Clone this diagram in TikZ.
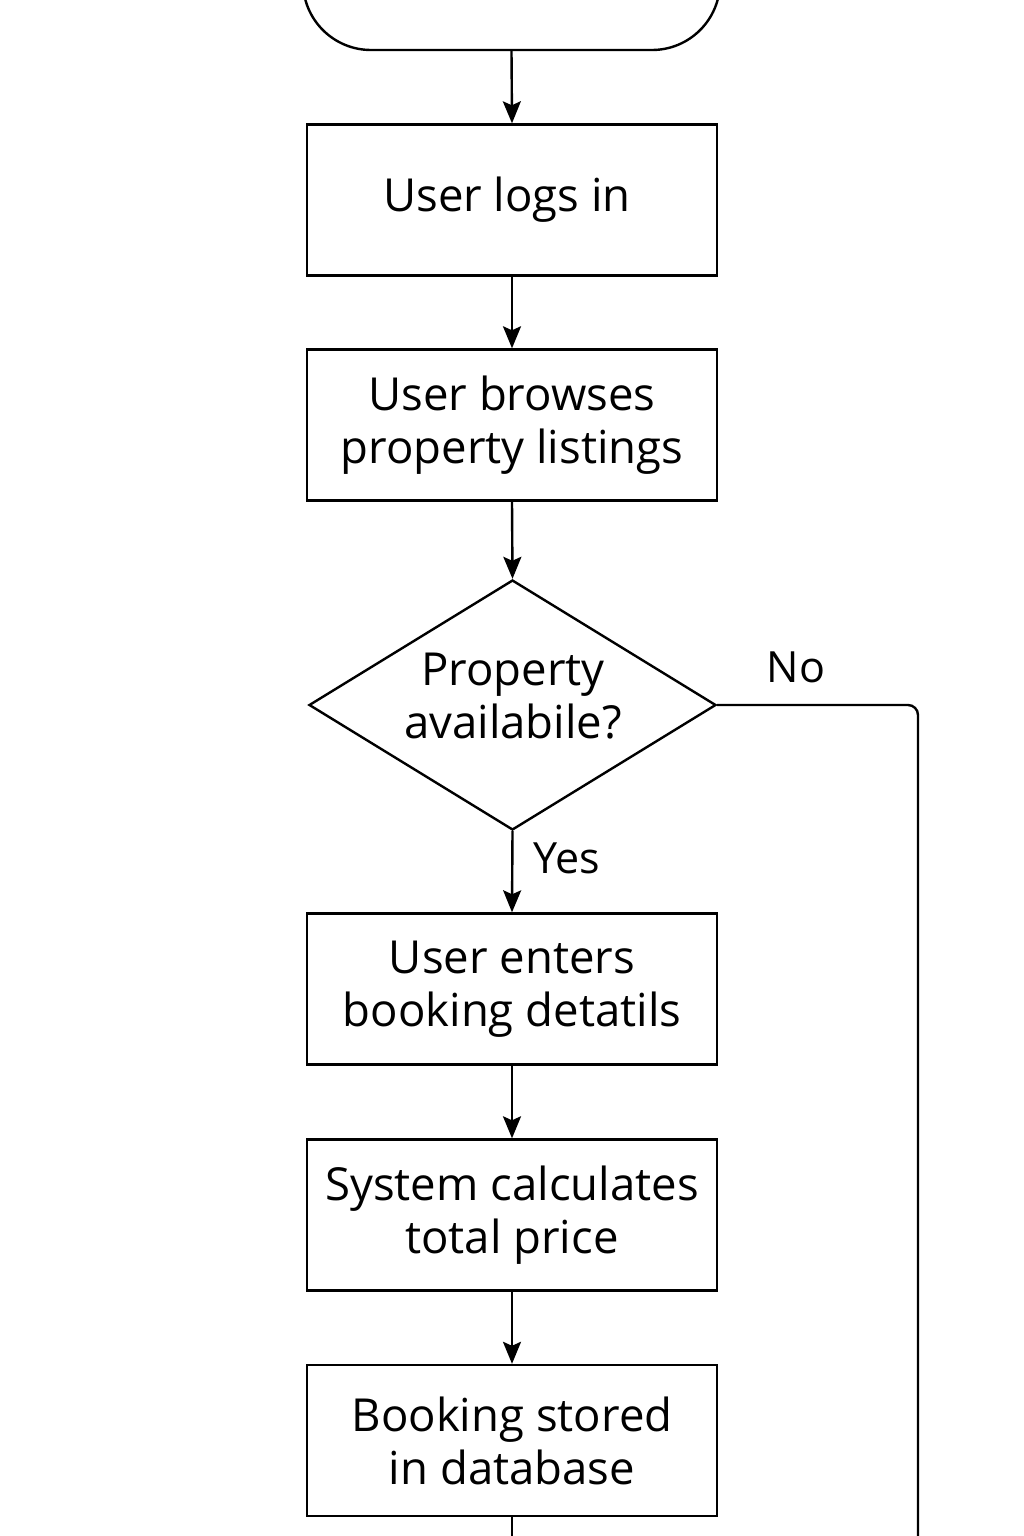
\documentclass[tikz,border=0pt]{standalone}
\usepackage{fontspec}
\setmainfont{Open Sans}
\usetikzlibrary{arrows.meta,shapes.geometric}
\begin{document}
\begin{tikzpicture}[x=1pt,y=-1pt,
  line width=2.4pt,
  txt/.style={align=center, font=\fontsize{45.5}{53}\selectfont},
  box/.style={draw, rectangle, minimum width=410pt, minimum height=151pt, inner sep=0pt, txt},
  dec/.style={draw, diamond, minimum width=407pt, minimum height=250pt, aspect=1.628, inner sep=0pt},
  term/.style={draw, rectangle, rounded corners=68pt, minimum width=417pt, minimum height=200pt, inner sep=0pt},
  lbl/.style={font=\fontsize{43}{53}\selectfont, inner sep=0pt},
  arr/.style={-{Stealth[length=22pt,width=18pt,inset=4pt]}}
]
\useasboundingbox (0,0) rectangle (1024,1536);
\clip (0,0) rectangle (1024,1536);
\node[term] (start) at (511.5,-50) {};
\node[box] (login) at (512,200) {User logs in\hspace*{10pt}};
\node[box] (browse) at (512,425) {User browses\\property listings};
\node[dec] (avail) at (512.5,705) {};
\node[txt, inner sep=0pt] (availtxt) at (513,696) {Property\\availabile?};
\node[box] (enter) at (512,989) {User enters\\booking detatils};
\node[box] (calc) at (512,1215) {System calculates\\total price};
\node[box] (store) at (512,1440.5) {Booking stored\\in database};
\coordinate (bot) at (512,1545);
\coordinate (nocorner) at (918,705);
\coordinate (nobot) at (918,1545);
\draw[arr] (start.south) -- (login.north);
\draw[arr] (login.south) -- (browse.north);
\draw[arr] (browse.south) -- (avail.north);
\draw[arr] (avail.south) -- (enter.north);
\draw[arr] (enter.south) -- (calc.north);
\draw[arr] (calc.south) -- (store.north);
\draw (store.south) -- (bot);
\draw[rounded corners=10pt] (avail.east) -- (nocorner) -- (nobot);
\node[lbl] (nolbl) at (796,667) {No};
\node[lbl] (yeslbl) at (567,858) {Yes};
\end{tikzpicture}
\end{document}
